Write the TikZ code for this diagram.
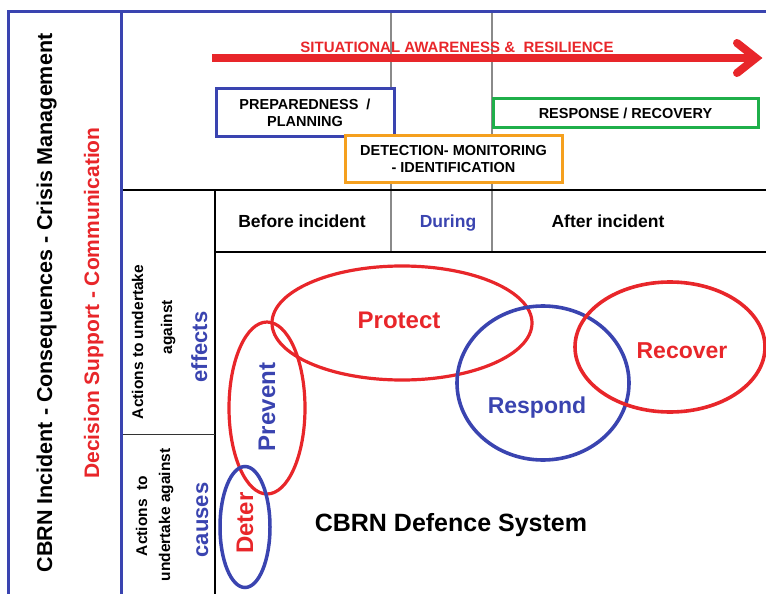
\documentclass[tikz,border=0pt]{standalone}
\usepackage{fontspec}
\setmainfont{Liberation Sans}
\usetikzlibrary{shapes.geometric}
\definecolor{cbred}{HTML}{E8262A}
\definecolor{cbblue}{HTML}{3A44B0}
\definecolor{cborange}{HTML}{F5A01E}
\definecolor{cbgreen}{HTML}{1FAF4A}
\definecolor{cbgray}{HTML}{8A8A8A}
\newcommand{\fsz}[1]{\fontsize{#1}{#1}\selectfont\bfseries}
\tikzset{
  lbl/.style={inner sep=0pt, anchor=base, align=center},
  vlbl/.style={lbl, rotate=90},
  blueline/.style={draw=cbblue, line width=3pt},
  blackline/.style={draw=black, line width=2.8pt},
  grayline/.style={draw=cbgray, line width=1.3pt},
  phasebox/.style={draw, line width=3pt, fill=white, inner sep=0pt, align=center, font=\fsz{14.5}, text depth=0pt},
  ring/.style={ellipse, draw, inner sep=0pt, line width=3.2pt},
}
\begin{document}
\begin{tikzpicture}[x=1pt, y=-1pt]
\useasboundingbox (0,0) rectangle (766,594);
% grid
\draw[grayline] (391,12) -- (391,252);
\draw[grayline] (492,12) -- (492,252);
\draw[blackline] (121,190) -- (766,190);
\draw[blackline] (215,190) -- (215,594);
\draw[draw=black, line width=2.3pt] (215,252) -- (766,252);
\draw[draw=black!80, line width=1pt] (121,434) -- (215,434);
\draw[blueline] (766,12) -- (8,12) -- (8,594);
\draw[blueline] (121,12) -- (121,594);
% arrow
\coordinate (arrS) at (212,58);
\coordinate (arrE) at (757,58);
\draw[cbred, line width=8pt] (arrS) -- (arrE);
\draw[cbred, line width=8pt, line cap=round, line join=miter] (737,43) -- (756,58) -- (737,73);
\node[lbl, text=cbred, font=\fsz{15}] (sa) at (457,53) {SITUATIONAL AWARENESS \&\ \ RESILIENCE};
% phase boxes
\node[phasebox, draw=cbblue, minimum width=178pt, minimum height=48pt] (prep) at (305,112.5) {PREPAREDNESS\ \ /\\[2pt]PLANNING};
\node[phasebox, draw=cbgreen, minimum width=265pt, minimum height=29pt] (resp) at (625.5,113) {RESPONSE / RECOVERY};
\node[phasebox, draw=cborange, minimum width=217pt, minimum height=47pt] (det) at (453.5,159) {DETECTION- MONITORING\\[2pt]- IDENTIFICATION};
% header row
\node[lbl, font=\fsz{17.5}] (before) at (302,227) {Before incident};
\node[lbl, font=\fsz{17.5}, text=cbblue] (during) at (448,227) {During};
\node[lbl, font=\fsz{17.5}] (after) at (608,227) {After incident};
% left titles
\node[vlbl, font=\fsz{21.5}] (t1) at (52,303) {CBRN Incident - Consequences - Crisis Management};
\node[vlbl, font=\fsz{21}, text=cbred] (t2) at (99,303) {Decision Support - Communication};
\node[vlbl, font=\fsz{15.5}] (a1) at (143,342) {Actions to undertake};
\node[vlbl, font=\fsz{15.5}] (a2) at (172,327) {against};
\node[vlbl, font=\fsz{22}, text=cbblue] (eff) at (207,347) {effects};
\node[vlbl, font=\fsz{15.5}] (b1) at (147,516) {Actions\ \ to};
\node[vlbl, font=\fsz{15.5}] (b2) at (170,515) {undertake against};
\node[vlbl, font=\fsz{22}, text=cbblue] (cau) at (208,520) {causes};
% rings
\node[ring, draw=cbred, minimum width=260pt, minimum height=114pt] (protectE) at (402,323) {};
\node[ring, draw=cbred, minimum width=76pt, minimum height=172pt] (preventE) at (267,408) {};
\node[ring, draw=cbblue, line width=3.5pt, minimum width=50pt, minimum height=121pt] (deterE) at (245,527) {};
\node[ring, draw=cbblue, line width=3.6pt, minimum width=172pt, minimum height=154pt] (respondE) at (543,383) {};
\node[ring, draw=cbred, line width=3.6pt, minimum width=190pt, minimum height=130pt] (recoverE) at (670,347) {};
% ring labels
\node[lbl, font=\fsz{24}, text=cbred] (protect) at (399,328) {Protect};
\node[lbl, font=\fsz{23}, text=cbred] (recover) at (682,358) {Recover};
\node[lbl, font=\fsz{23}, text=cbblue] (respond) at (537,413) {Respond};
\node[vlbl, font=\fsz{24}, text=cbblue] (prevent) at (275,407) {Prevent};
\node[vlbl, font=\fsz{24}, text=cbred] (deter) at (253,523) {Deter};
\node[lbl, font=\fsz{25}] (sys) at (451,531) {CBRN Defence System};
\end{tikzpicture}
\end{document}
